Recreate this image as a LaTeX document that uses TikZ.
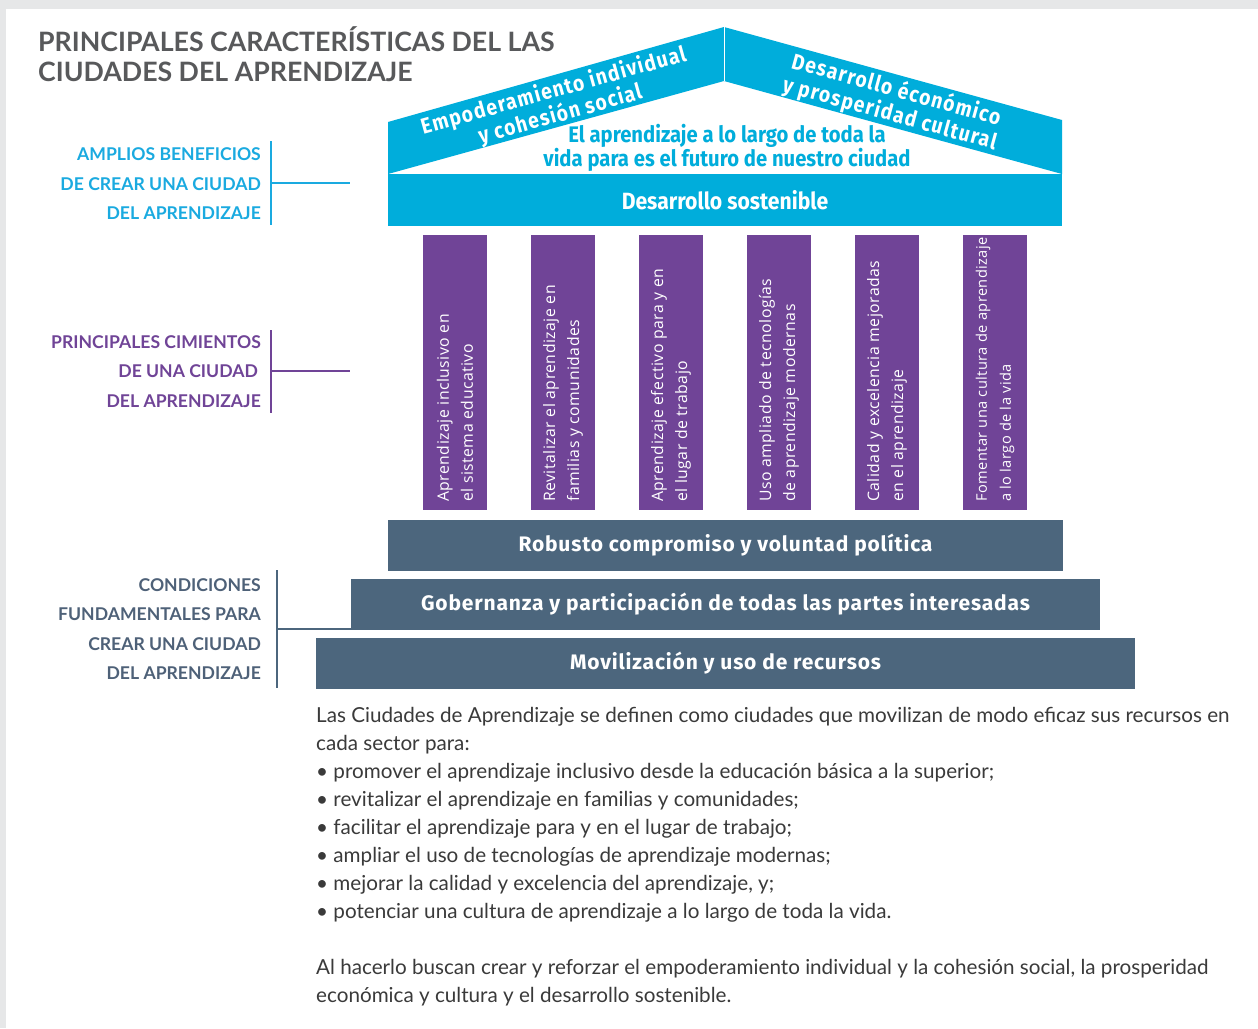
\documentclass[tikz,border=0pt]{standalone}
\usepackage{fontspec}
\setmainfont{Lato}
\newfontfamily\latof{Lato}
\newfontfamily\condf[FakeStretch=0.9]{Fira Sans}
\newfontfamily\barf[LetterSpace=4]{Fira Sans}
\newfontfamily\pilf[LetterSpace=3]{Open Sans}
\newfontfamily\rooff[FakeStretch=0.88,LetterSpace=6]{Fira Sans}
\definecolor{cyanr}{HTML}{00ADDB}
\definecolor{cyant}{HTML}{1AAAE0}
\definecolor{purp}{HTML}{704497}
\definecolor{slate}{HTML}{4C667D}
\definecolor{slatet}{HTML}{4E6178}
\definecolor{titg}{HTML}{58595B}
\definecolor{bodyt}{HTML}{3A3A3A}
\definecolor{bgg}{HTML}{E6E7E8}
\tikzset{
  titlestyle/.style={anchor=base west, inner sep=0, text=titg, font=\latof\bfseries\fontsize{26.7}{30}\selectfont},
  lbl/.style={anchor=base east, inner sep=0, font=\latof\bfseries\fontsize{17.6}{20}\selectfont},
  rooftext/.style={align=center, inner sep=0, text=white, font=\rooff\bfseries\fontsize{22}{24.5}\selectfont},
  lifetext/.style={align=center, inner sep=0, text=cyanr, font=\condf\bfseries\fontsize{22.5}{23}\selectfont},
  cyanbar/.style={fill=cyanr, inner sep=0, text=white, font=\condf\bfseries\fontsize{23.5}{26}\selectfont},
  pillar/.style={fill=purp, inner sep=0, minimum width=64, minimum height=275},
  ptext/.style={rotate=90, anchor=west, align=left, inner sep=0, text=white, font=\pilf\fontsize{15.8}{24}\selectfont},
  slatebar/.style={fill=slate, inner sep=0, minimum height=51, text=white, font=\barf\bfseries\fontsize{21}{24}\selectfont},
  bodyline/.style={anchor=base west, inner sep=0, text=bodyt, font=\latof\fontsize{20.65}{28}\selectfont},
  bracket/.style={line width=1.4pt}
}
\begin{document}
\begin{tikzpicture}[x=1pt,y=-1pt]
\fill[bgg] (0,0) rectangle (1258,1028);
\fill[white] (6,9) rectangle (1258,1028);
\useasboundingbox (0,0) rectangle (1258,1028);

% title
\node[titlestyle] (title1) at (38,51) {PRINCIPALES CARACTERÍSTICAS DEL LAS};
\node[titlestyle] (title2) at (38,81) {CIUDADES DEL APRENDIZAJE};

% roof
\fill[cyanr] (388,174) -- (388,122) -- (724,27) -- (724,81) -- cycle;
\fill[cyanr] (724,27) -- (1062,120) -- (1062,174) -- (724,81) -- cycle;
\draw[white, line width=1pt] (724,27) -- (724,81);
\node[rooftext, rotate=15.6] (roofL) at (557,103) {Empoderamiento individual\\y cohesión social};
\node[rooftext, rotate=-15.4] (roofR) at (893,102) {Desarrollo éconómico\\y prosperidad cultural};
\node[lifetext] (life) at (727,148) {El aprendizaje a lo largo de toda la\\vida para es el futuro de nuestro ciudad};
\node[cyanbar, minimum width=674, minimum height=52] (des) at (725,200) {Desarrollo sostenible};

% pillars
\foreach \px/\ptxt [count=\i] in {
  423/{Aprendizaje inclusivo en\\el sistema educativo},
  531/{Revitalizar el aprendizaje en\\familias y comunidades},
  639/{Aprendizaje efectivo para y en\\el lugar de trabajo},
  747/{Uso ampliado de tecnologías\\de aprendizaje modernas},
  855/{Calidad y excelencia mejoradas\\en el aprendizaje},
  963/{\fontsize{14.6}{24}\selectfont Fomentar una cultura de aprendizaje\\\fontsize{14.6}{24}\selectfont a lo largo de la vida}} {
  \node[pillar] (p\i) at (\px+32,372.5) {};
  \node[ptext] (pt\i) at (\px+32,502) {\ptxt};
}

% foundation bars
\node[slatebar, minimum width=675] (r1) at (725.5,545.5) {Robusto compromiso y voluntad política};
\node[slatebar, minimum width=749] (r2) at (725.5,604.5) {Gobernanza y participación de todas las partes interesadas};
\node[slatebar, minimum width=819] (r3) at (725.5,663.5) {Movilización y uso de recursos};

% labels
\node[lbl, text=cyant] (a1) at (261,160) {AMPLIOS BENEFICIOS};
\node[lbl, text=cyant] (a2) at (261,190) {DE CREAR UNA CIUDAD};
\node[lbl, text=cyant] (a3) at (261,219) {DEL APRENDIZAJE};
\coordinate (ab1) at (271,141);
\coordinate (ab2) at (271,225);
\coordinate (abm) at (271,183);
\coordinate (abe) at (350,183);
\draw[bracket, cyant] (ab1) -- (ab2);
\draw[bracket, cyant] (abm) -- (abe);

\node[lbl, text=purp] (b1) at (261,348) {PRINCIPALES CIMIENTOS};
\node[lbl, text=purp] (b2) at (258,377) {DE UNA CIUDAD};
\node[lbl, text=purp] (b3) at (261,407) {DEL APRENDIZAJE};
\coordinate (bb1) at (271,330);
\coordinate (bb2) at (271,413);
\coordinate (bbm) at (271,371);
\coordinate (bbe) at (350,371);
\draw[bracket, purp] (bb1) -- (bb2);
\draw[bracket, purp] (bbm) -- (bbe);

\node[lbl, text=slatet] (c1) at (261,591) {CONDICIONES};
\node[lbl, text=slatet] (c2) at (261,620) {FUNDAMENTALES PARA};
\node[lbl, text=slatet] (c3) at (261,650) {CREAR UNA CIUDAD};
\node[lbl, text=slatet] (c4) at (261,679) {DEL APRENDIZAJE};
\coordinate (cb1) at (277,570);
\coordinate (cb2) at (277,688);
\coordinate (cbm) at (277,629);
\coordinate (cbe) at (352,629);
\draw[bracket, slate] (cb1) -- (cb2);
\draw[bracket, slate] (cbm) -- (cbe);

% body text
\node[bodyline] (t1) at (316,722) {Las Ciudades de Aprendizaje se definen como ciudades que movilizan de modo eficaz sus recursos en};
\node[bodyline] (t2) at (316,750) {cada sector para:};
\node[bodyline] (t3) at (316,778) {• promover el aprendizaje inclusivo desde la educación básica a la superior;};
\node[bodyline] (t4) at (316,806) {• revitalizar el aprendizaje en familias y comunidades;};
\node[bodyline] (t5) at (316,834) {• facilitar el aprendizaje para y en el lugar de trabajo;};
\node[bodyline] (t6) at (316,862) {• ampliar el uso de tecnologías de aprendizaje modernas;};
\node[bodyline] (t7) at (316,890) {• mejorar la calidad y excelencia del aprendizaje, y;};
\node[bodyline] (t8) at (316,918) {• potenciar una cultura de aprendizaje a lo largo de toda la vida.};
\node[bodyline] (t9) at (316,974) {Al hacerlo buscan crear y reforzar el empoderamiento individual y la cohesión social, la prosperidad};
\node[bodyline] (t10) at (316,1002) {económica y cultura y el desarrollo sostenible.};
\end{tikzpicture}
\end{document}
